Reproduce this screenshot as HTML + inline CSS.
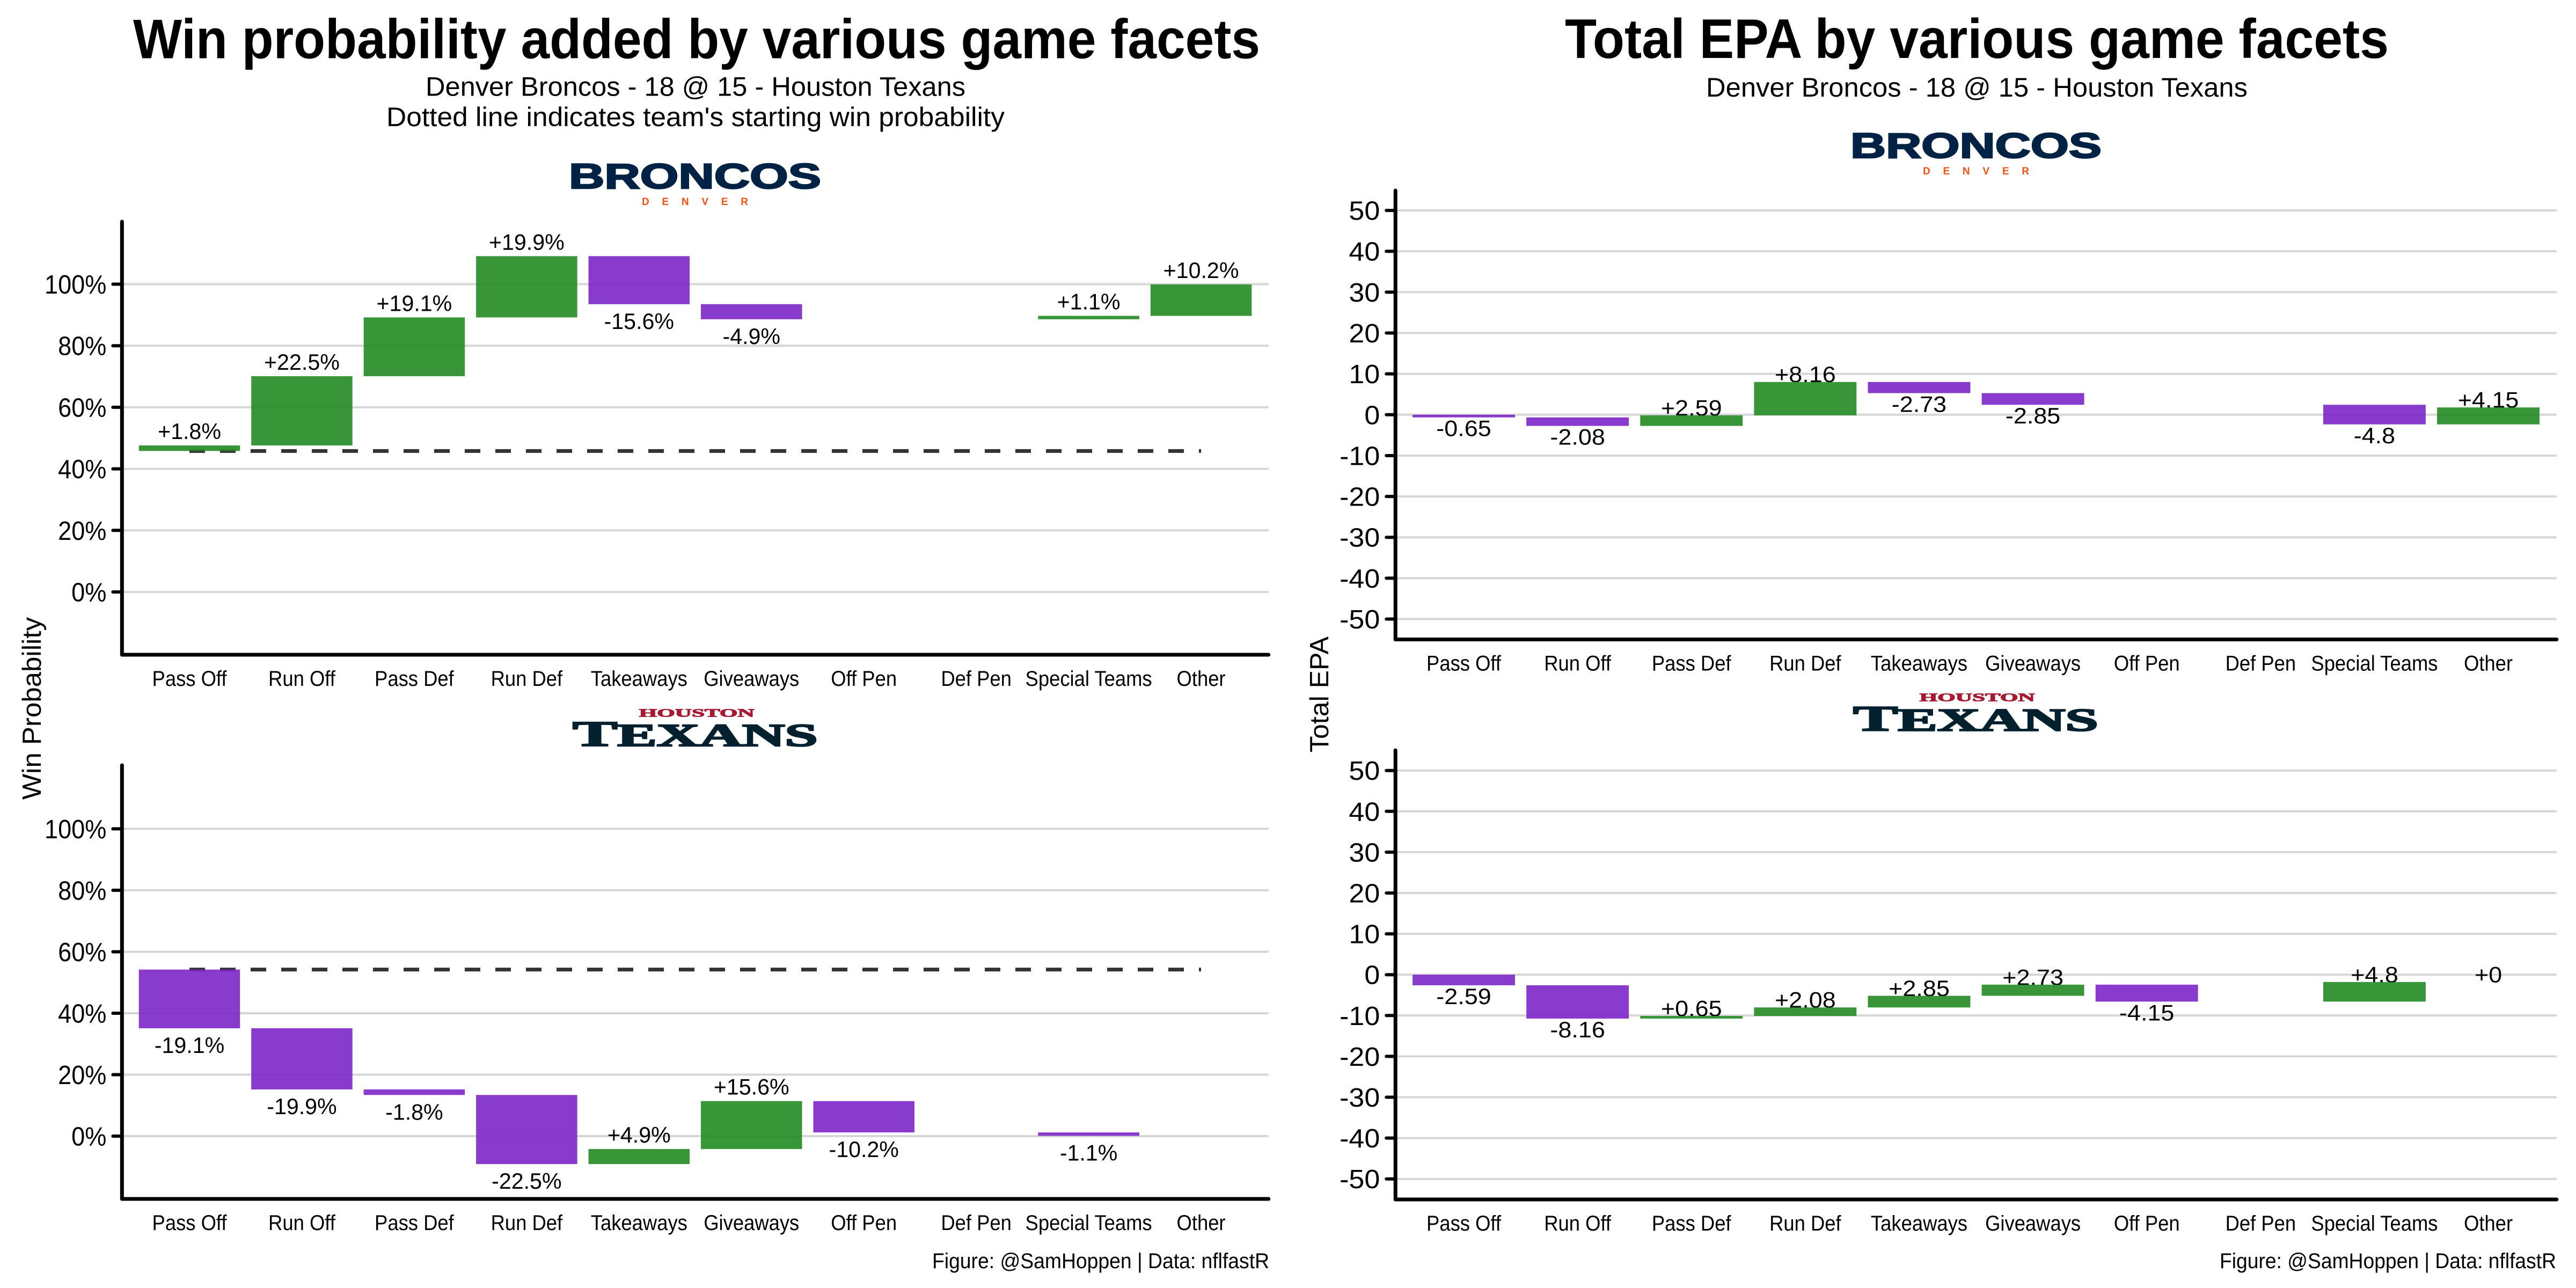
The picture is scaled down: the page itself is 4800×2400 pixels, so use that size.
<!DOCTYPE html>
<html lang="en">
<head>
<meta charset="utf-8">
<title>Win probability and Total EPA by game facet</title>
<style>
html,body{margin:0;padding:0;background:#fff;}
svg{display:block;}
text{font-family:"Liberation Sans",sans-serif;fill:#000;}
</style>
</head>
<body>
<svg id="figure" xmlns="http://www.w3.org/2000/svg" width="4800" height="2400" viewBox="0 0 4800 2400">
  <rect x="0" y="0" width="4800" height="2400" fill="#fff"/>

  <text x="248" y="108.5" font-size="104" font-weight="700" textLength="2100" lengthAdjust="spacingAndGlyphs">Win probability added by various game facets</text>
  <text x="793" y="178.5" font-size="50" textLength="1006" lengthAdjust="spacingAndGlyphs">Denver Broncos - 18 @ 15 - Houston Texans</text>
  <text x="720" y="235" font-size="50" textLength="1152" lengthAdjust="spacingAndGlyphs">Dotted line indicates team's starting win probability</text>

  <text x="2916" y="108" font-size="104" font-weight="700" textLength="1535" lengthAdjust="spacingAndGlyphs">Total EPA by various game facets</text>
  <text x="3179" y="180" font-size="50" textLength="1009" lengthAdjust="spacingAndGlyphs">Denver Broncos - 18 @ 15 - Houston Texans</text>

  <text transform="translate(76 1320) rotate(-90)" text-anchor="middle" font-size="49" textLength="340" lengthAdjust="spacingAndGlyphs">Win Probability</text>
  <text transform="translate(2475 1294) rotate(-90)" text-anchor="middle" font-size="49" textLength="216" lengthAdjust="spacingAndGlyphs">Total EPA</text>

  <g id="wp-broncos-panel"></g>
  <g id="wp-texans-panel"></g>
  <g id="epa-broncos-panel"></g>
  <g id="epa-texans-panel"></g>

  <g>
    <text x="1060" y="351" font-size="66" font-weight="700" style="fill:#002244;stroke:#002244;stroke-width:2.5" textLength="470" lengthAdjust="spacingAndGlyphs">BRONCOS</text>
    <text x="1196" y="382" font-size="19" font-weight="700" style="fill:#FB4F14" textLength="198" lengthAdjust="spacing">DENVER</text>
  </g>
  <g>
    <text x="3448" y="294" font-size="66" font-weight="700" style="fill:#002244;stroke:#002244;stroke-width:2.5" textLength="468" lengthAdjust="spacingAndGlyphs">BRONCOS</text>
    <text x="3583" y="325" font-size="19" font-weight="700" style="fill:#FB4F14" textLength="198" lengthAdjust="spacing">DENVER</text>
  </g>
  <g>
    <text x="1190.7" y="1335.7" font-size="21" font-weight="700" style="fill:#A71930;stroke:#A71930;stroke-width:1;font-family:'Liberation Serif',serif" textLength="215" lengthAdjust="spacingAndGlyphs">HOUSTON</text>
    <text x="1067" y="1390" font-size="59" font-weight="700" style="fill:#03202F;stroke:#03202F;stroke-width:2.5;font-family:'Liberation Serif',serif" textLength="456.6" lengthAdjust="spacingAndGlyphs"><tspan font-size="67">T</tspan>EXANS</text>
  </g>
  <g>
    <text x="3576.7" y="1306.5" font-size="21" font-weight="700" style="fill:#A71930;stroke:#A71930;stroke-width:1;font-family:'Liberation Serif',serif" textLength="215" lengthAdjust="spacingAndGlyphs">HOUSTON</text>
    <text x="3453" y="1361.5" font-size="59" font-weight="700" style="fill:#03202F;stroke:#03202F;stroke-width:2.5;font-family:'Liberation Serif',serif" textLength="456.6" lengthAdjust="spacingAndGlyphs"><tspan font-size="67">T</tspan>EXANS</text>
  </g>

  <text x="1737" y="2363" font-size="40" textLength="628" lengthAdjust="spacingAndGlyphs">Figure: @SamHoppen | Data: nflfastR</text>
  <text x="4136" y="2363" font-size="40" textLength="627" lengthAdjust="spacingAndGlyphs">Figure: @SamHoppen | Data: nflfastR</text>
</svg>

<script>
const categories = ['Pass Off', 'Run Off', 'Pass Def', 'Run Def', 'Takeaways', 'Giveaways', 'Off Pen', 'Def Pen', 'Special Teams', 'Other'];
const wpTicks = [0, 20, 40, 60, 80, 100];
const epaTicks = [-50, -40, -30, -20, -10, 0, 10, 20, 30, 40, 50];
const wpBroncosDeltas = [1.8, 22.5, 19.1, 19.9, -15.6, -4.9, null, null, 1.1, 10.2];
const wpTexansDeltas = [-19.1, -19.9, -1.8, -22.5, 4.9, 15.6, -10.2, null, -1.1, null];
const epaBroncosDeltas = [-0.65, -2.08, 2.59, 8.16, -2.73, -2.85, null, null, -4.8, 4.15];
const epaTexansDeltas = [-2.59, -8.16, 0.65, 2.08, 2.85, 2.73, -4.15, null, 4.8, 0];
const wpBroncosStart = 45.8;
const wpTexansStart = 54.2;
const epaStart = 0;

const SVG_NS = 'http://www.w3.org/2000/svg';
const GREEN = '#228B22';
const PURPLE = '#7C26C9';

function make(tag, parent) {
  const el = document.createElementNS(SVG_NS, tag);
  parent.appendChild(el);
  return el;
}

function fit(el, k) {
  el.setAttribute('textLength', (el.getComputedTextLength() * k).toFixed(1));
  el.setAttribute('lengthAdjust', 'spacingAndGlyphs');
}

function slug(s) {
  return s.toLowerCase().replace(/[^a-z0-9]+/g, '-');
}

function drawPanel(o) {
  const root = document.getElementById(o.id);
  const xScale = i => o.firstCenter + i * o.step;
  const yScale = v => o.zeroY - v * o.pxPerUnit;
  const x0 = xScale(0) - 0.6 * o.step;
  const x1 = xScale(categories.length - 1) + 0.6 * o.step;

  o.ticks.forEach(t => {
    const grid = make('line', root);
    
    
    grid.setAttribute('x1', x0);
    grid.setAttribute('x2', x1);
    grid.setAttribute('y1', yScale(t));
    grid.setAttribute('y2', yScale(t));
    grid.setAttribute('stroke', '#d6d6d6');
    grid.setAttribute('stroke-width', 4);

    const tick = make('line', root);
    
    
    tick.setAttribute('x1', x0 - 17);
    tick.setAttribute('x2', x0);
    tick.setAttribute('y1', yScale(t));
    tick.setAttribute('y2', yScale(t));
    tick.setAttribute('stroke', '#000');
    tick.setAttribute('stroke-width', 6);
    tick.setAttribute('stroke-linecap', 'round');

    const tickLabel = make('text', root);
    
    
    tickLabel.setAttribute('x', x0 - 29);
    tickLabel.setAttribute('y', yScale(t) + 17.5);
    tickLabel.setAttribute('text-anchor', 'end');
    tickLabel.setAttribute('font-size', 49);
    tickLabel.textContent = t + o.suffix;
    fit(tickLabel, o.tickFit);
  });

  if (o.showStartLine) {
    const dash = make('line', root);
    
    
    dash.setAttribute('x1', xScale(0));
    dash.setAttribute('x2', xScale(categories.length - 1));
    dash.setAttribute('y1', yScale(o.start));
    dash.setAttribute('y2', yScale(o.start));
    dash.setAttribute('stroke', '#333');
    dash.setAttribute('stroke-width', 7);
    dash.setAttribute('stroke-dasharray', '29 28');
  }

  let running = o.start;
  const spans = o.deltas.map(d => {
    if (d === null) return null;
    const from = running;
    running += d;
    return { from: from, to: running, delta: d };
  });

  spans.forEach((s, i) => {
    if (!s) return;
    const top = yScale(Math.max(s.from, s.to));
    const bottom = yScale(Math.min(s.from, s.to));
    const label = make('text', root);
    
    
    label.setAttribute('x', xScale(i));
    label.setAttribute('y', s.delta >= 0 ? top + o.aboveOffset : bottom + o.belowOffset);
    label.setAttribute('text-anchor', 'middle');
    label.setAttribute('font-size', 42);
    label.textContent = (s.delta >= 0 ? '+' : '') + s.delta + o.suffix;
    fit(label, o.labelFit);
  });

  spans.forEach((s, i) => {
    if (!s) return;
    const top = yScale(Math.max(s.from, s.to));
    const bottom = yScale(Math.min(s.from, s.to));
    const bar = make('rect', root);
    
    
    bar.setAttribute('x', xScale(i) - 0.45 * o.step);
    bar.setAttribute('width', 0.9 * o.step);
    bar.setAttribute('y', top);
    bar.setAttribute('height', bottom - top);
    bar.setAttribute('fill', s.delta >= 0 ? GREEN : PURPLE);
    bar.setAttribute('fill-opacity', 0.9);
  });

  categories.forEach((c, i) => {
    const cat = make('text', root);
    
    
    cat.setAttribute('x', xScale(i));
    cat.setAttribute('y', o.axisBottom + 58);
    cat.setAttribute('text-anchor', 'middle');
    cat.setAttribute('font-size', 40);
    cat.textContent = c;
    fit(cat, 0.91);
  });

  const yAxis = make('line', root);
  
  
  yAxis.setAttribute('x1', x0);
  yAxis.setAttribute('x2', x0);
  yAxis.setAttribute('y1', o.axisTop + 3);
  yAxis.setAttribute('y2', o.axisBottom);
  yAxis.setAttribute('stroke', '#000');
  yAxis.setAttribute('stroke-width', 7);
  yAxis.setAttribute('stroke-linecap', 'round');

  const xAxis = make('line', root);
  
  
  xAxis.setAttribute('x1', x0);
  xAxis.setAttribute('x2', x1);
  xAxis.setAttribute('y1', o.axisBottom);
  xAxis.setAttribute('y2', o.axisBottom);
  xAxis.setAttribute('stroke', '#000');
  xAxis.setAttribute('stroke-width', 7);
  xAxis.setAttribute('stroke-linecap', 'round');
}

drawPanel({ id: 'wp-broncos-panel', deltas: wpBroncosDeltas, start: wpBroncosStart, ticks: wpTicks, suffix: '%',
  firstCenter: 353, step: 209.45, zeroY: 1103, pxPerUnit: 5.735, axisTop: 410, axisBottom: 1220,
  showStartLine: true, aboveOffset: -12, belowOffset: 46, tickFit: 0.92, labelFit: 0.98 });
drawPanel({ id: 'wp-texans-panel', deltas: wpTexansDeltas, start: wpTexansStart, ticks: wpTicks, suffix: '%',
  firstCenter: 353, step: 209.45, zeroY: 2117, pxPerUnit: 5.726, axisTop: 1423, axisBottom: 2234,
  showStartLine: true, aboveOffset: -12, belowOffset: 46, tickFit: 0.92, labelFit: 0.98 });
drawPanel({ id: 'epa-broncos-panel', deltas: epaBroncosDeltas, start: epaStart, ticks: epaTicks, suffix: '',
  firstCenter: 2727.5, step: 212.12, zeroY: 772.8, pxPerUnit: 7.614, axisTop: 352, axisBottom: 1191.5,
  showStartLine: false, aboveOffset: 0.5, belowOffset: 35, tickFit: 1.06, labelFit: 1.07 });
drawPanel({ id: 'epa-texans-panel', deltas: epaTexansDeltas, start: epaStart, ticks: epaTicks, suffix: '',
  firstCenter: 2727.5, step: 212.12, zeroY: 1816.2, pxPerUnit: 7.61, axisTop: 1395, axisBottom: 2235,
  showStartLine: false, aboveOffset: 0.5, belowOffset: 35, tickFit: 1.06, labelFit: 1.07 });
</script>
</body>
</html>
